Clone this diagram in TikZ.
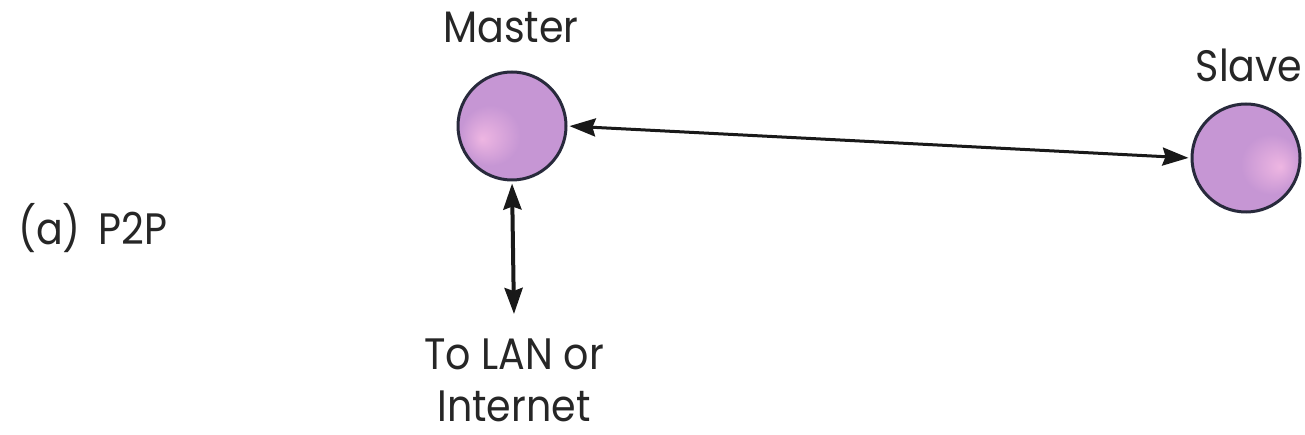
\documentclass[tikz,border=0pt]{standalone}
\usepackage{fontspec}
\setmainfont{Poppins}
\usetikzlibrary{arrows.meta}
\definecolor{pinkhi}{RGB}{238,182,226}
\definecolor{lilac}{RGB}{198,150,212}
\definecolor{lilacdk}{RGB}{182,128,202}
\definecolor{rim}{RGB}{40,42,60}
\pgfdeclareradialshading{ballL}{\pgfpoint{-14bp}{-6bp}}{%
  color(0bp)=(pinkhi); color(14bp)=(lilac); color(30bp)=(lilac); color(50bp)=(lilacdk)}
\pgfdeclareradialshading{ballR}{\pgfpoint{16bp}{-4bp}}{%
  color(0bp)=(pinkhi); color(14bp)=(lilac); color(30bp)=(lilac); color(50bp)=(lilacdk)}
\newcommand{\lt}[1]{\scalebox{0.9}[1]{#1}}
\tikzset{
  ball/.style={circle, draw=rim, line width=3pt, minimum size=108pt, inner sep=0pt},
  lbl/.style={font=\fontsize{44}{50}\selectfont, inner sep=0pt, anchor=base, text=black!85},
  conn/.style={line width=3pt, draw=black!90, {Stealth[length=26pt,width=18pt,inset=3pt]}-{Stealth[length=26pt,width=18pt,inset=3pt]}, shorten <=2pt, shorten >=2pt}
}
\begin{document}
\begin{tikzpicture}[x=1pt,y=-1pt]
\useasboundingbox (0,0) rectangle (1305,435);
\node[ball, shading=ballL] (master) at (512,126) {};
\node[ball, shading=ballR] (slave) at (1246,158) {};
\node[lbl] (mlab) at (511,43) {\lt{Master}};
\node[lbl] (slab) at (1249,82) {\lt{Slave}};
\node[lbl, anchor=base west] (p2p) at (18,245) {\lt{(a)\hspace{0.45em}P2P}};
\node[lbl] (lan1) at (514,369) {\lt{To LAN or}};
\node[lbl] (lan2) at (514,421) {\lt{Internet}};
\coordinate (lanend) at (514,316);
\draw[conn] (master.east) -- (slave.west);
\draw[conn, line width=4pt] (master.south) -- (lanend);
\end{tikzpicture}
\end{document}
